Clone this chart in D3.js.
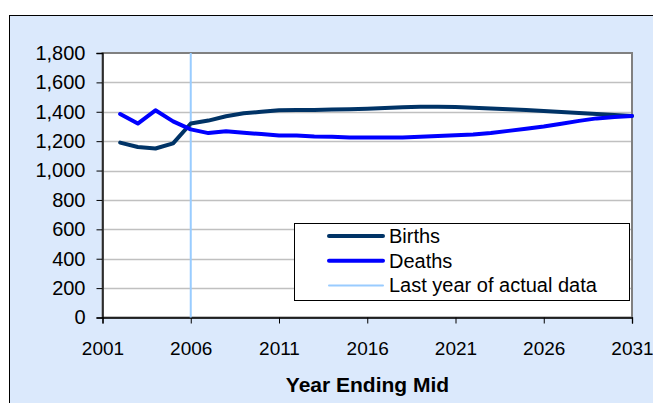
<!DOCTYPE html>
<html><head><meta charset="utf-8">
<script src="https://cdn.jsdelivr.net/npm/d3@7"></script>
<style>body{margin:0;background:#fff}svg{display:block}text{font-family:"Liberation Sans",Arial,sans-serif}</style>
</head><body>
<svg id="c" width="653" height="403"></svg>
<script>
const years = d3.range(2002, 2032);
const births = [1190,1160,1150,1185,1320,1340,1370,1390,1400,1410,1412,1412,1415,1417,1420,1425,1430,1435,1435,1432,1428,1423,1418,1412,1405,1398,1392,1385,1378,1372];
const deaths = [1385,1320,1410,1335,1280,1255,1268,1258,1248,1238,1238,1232,1230,1225,1225,1225,1225,1230,1235,1240,1245,1255,1270,1285,1300,1318,1338,1355,1365,1372];
const xTicks = [2001,2006,2011,2016,2021,2026,2031];
const yTicks = [0,200,400,600,800,1000,1200,1400,1600,1800];
const lastActualYear = 2006;
const legendLabels = ["Births","Deaths","Last year of actual data"];
const colors = ["#003366","#0000ff","#99ccff"];

const svg = d3.select("#c");
svg.append("rect").attr("x",9.5).attr("y",15.5).attr("width",660).attr("height",400)
  .attr("fill","#dbe9fc").attr("stroke","#000");

const L=102.5, R=632, T=53, B=317.5;
const x = d3.scaleLinear().domain([2001,2031]).range([L,R]);
const y = d3.scaleLinear().domain([0,1800]).range([B,T]);

svg.append("rect").attr("x",L).attr("y",T).attr("width",R-L).attr("height",B-T)
  .attr("fill","#fff").attr("stroke","#808080").attr("stroke-width",2);

svg.append("g").selectAll("line").data(yTicks.slice(1,-1)).join("line")
  .attr("x1",L).attr("x2",R-1).attr("y1",d=>Math.round(y(d))+0.5).attr("y2",d=>Math.round(y(d))+0.5)
  .attr("stroke","#c0c0c0").attr("stroke-width",1.3);

// Y axis
const ya = svg.append("g").attr("transform",`translate(${L},0)`)
  .call(d3.axisLeft(y).tickValues(yTicks).tickFormat(d3.format(",")).tickSize(6).tickPadding(11));
ya.select(".domain").attr("stroke","#000").attr("stroke-width",1.3);
ya.selectAll(".tick line").attr("stroke","#000");
ya.selectAll("text").attr("font-size",20).attr("fill","#000");

// X axis
const xa = svg.append("g").attr("transform",`translate(0,${B})`)
  .call(d3.axisBottom(x).tickValues(xTicks).tickFormat(d3.format("d")).tickSize(6).tickPadding(0));
xa.select(".domain").attr("stroke","#000").attr("stroke-width",1.3);
xa.selectAll(".tick line").attr("stroke","#000");
xa.selectAll("text").attr("font-size",19).attr("fill","#000").attr("dy",null).attr("y",37);

// last year of actual data
svg.append("line").attr("x1",x(lastActualYear)).attr("x2",x(lastActualYear)).attr("y1",T).attr("y2",B)
  .attr("stroke",colors[2]).attr("stroke-width",2);

const line = d3.line().x((d,i)=>x(years[i])).y(d=>y(d));
[births,deaths].forEach((s,i)=>{
  svg.append("path").attr("d",line(s)).attr("fill","none").attr("stroke",colors[i])
    .attr("stroke-width",4).attr("stroke-linejoin","round").attr("stroke-linecap","round");
});

svg.append("text").attr("x",367.5).attr("y",392).attr("text-anchor","middle")
  .attr("font-size",21).attr("font-weight","bold").text("Year Ending Mid");

// legend
const lg = svg.append("g");
lg.append("rect").attr("x",294.5).attr("y",223.5).attr("width",335).attr("height",77)
  .attr("fill","#fff").attr("stroke","#000");
legendLabels.forEach((t,i)=>{
  const yy = 236 + i*24.7;
  lg.append("line").attr("x1",329).attr("x2",383).attr("y1",yy).attr("y2",yy)
    .attr("stroke",colors[i]).attr("stroke-width",i<2?4:2).attr("stroke-linecap","round");
  lg.append("text").attr("x",389).attr("y",yy+7).attr("font-size",20).text(t);
});
</script>
</body></html>
